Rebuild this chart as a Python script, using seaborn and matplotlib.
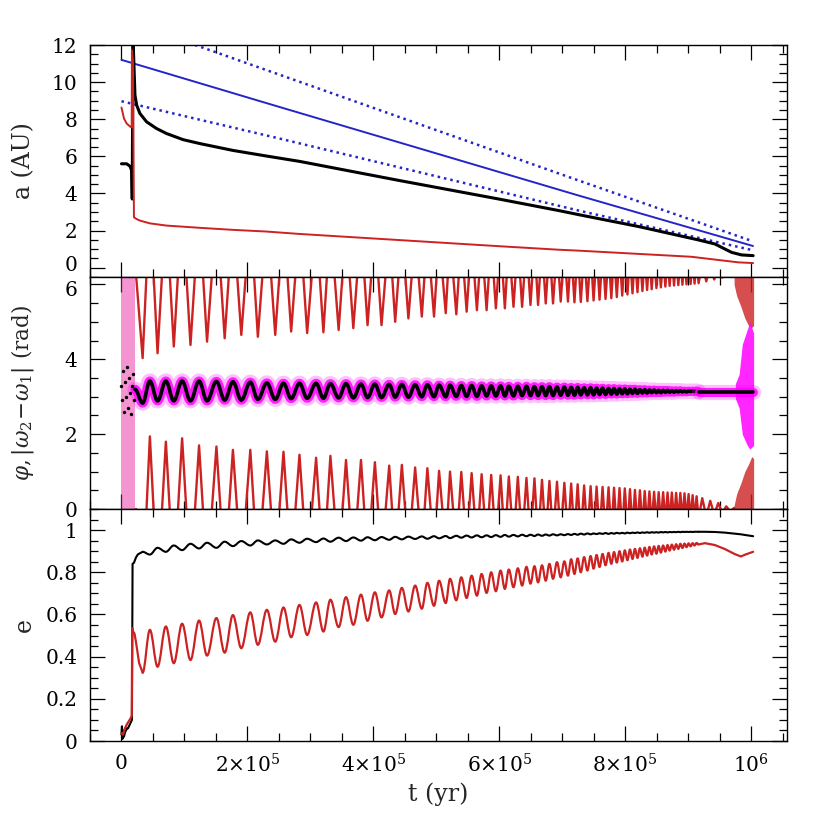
import numpy as np
import matplotlib
matplotlib.use("Agg")
import matplotlib.pyplot as plt
from matplotlib.path import Path
from matplotlib.patches import PathPatch
from matplotlib.transforms import ScaledTranslation
import seaborn as sns
from matplotlib.ticker import MultipleLocator, FixedLocator, FixedFormatter

# ================= DATA (time in kyr) =================
# --- top panel: semi-major axis a (AU) ---
t_blue = [0, 251, 726, 1003]
a_blue = [11.2, 8.66, 3.89, 1.17]
a_blue_hi = [13.4, 10.4, 4.70, 1.42]
a_blue_lo = [8.97, 6.96, 3.08, 0.94]

t_a_blk = [0, 8.2, 13.5, 16.2, 17.1, 18.2, 21.4, 24.1, 29.3, 39.9, 55.7, 71.6, 97.9, 124.3,
           177.0, 229.9, 282.7, 441.1, 599.4, 694.4, 726.0, 821.1, 916.0, 942.5, 968.8, 984.6, 1003.2]
a_blk = [5.6, 5.6, 5.47, 5.24, 3.7, 12.5, 9.3, 8.76, 8.31, 7.86, 7.5, 7.23, 6.9, 6.69,
         6.32, 6.02, 5.73, 4.70, 3.70, 3.08, 2.86, 2.22, 1.50, 1.28, 0.83, 0.69, 0.65]
t_a_red = [0, 4.0, 8.2, 14.6, 16.2, 16.6, 18.2, 19.8, 24.1, 29.3, 45.1, 71.6, 124.3, 177.0,
           229.9, 282.7, 441.1, 599.4, 694.4, 726.0, 905.1, 979.4, 1003.2]
a_red = [8.63, 8.04, 7.77, 7.58, 7.58, 11.7, 11.2, 2.72, 2.62, 2.54, 2.39, 2.27, 2.15, 2.04,
         1.95, 1.82, 1.49, 1.16, 0.97, 0.92, 0.59, 0.29, 0.25]

# --- times of the secular-oscillation extrema ---
t_T = [33.6, 57.3, 83.1, 109.6, 135.9, 163.9, 190.3, 216.6, 244.2, 269.5, 294.9, 320.7,
       344.9, 368.2, 390.8, 413.0, 434.7, 455.7, 477.0, 496.4, 515.0, 531.8, 548.2, 564.5,
       579.9, 594.6, 608.9, 622.6, 636.3, 649.6, 661.6, 673.8, 685.4, 697.6, 709.1, 719.4,
       729.5, 740.0, 749.8, 759.3, 768.8, 778.0, 786.7, 795.3, 803.6, 811.6, 819.5, 827.4,
       834.8, 842.1, 849.6, 856.7, 863.8, 870.6, 877.6, 884.4, 890.9, 897.4, 903.9, 910.2, 916.6]
t_P = [45.1, 70.5, 96.3, 123.2, 150.8, 177.0, 204.6, 230.9, 257.3, 282.7, 309.1, 331.8,
       356.6, 380.4, 402.5, 425.2, 445.3, 466.4, 485.8, 504.4, 521.8, 539.7, 556.1, 572.0,
       587.2, 602.1, 615.2, 629.5, 643.2, 655.9, 667.9, 679.7, 691.7, 703.4, 714.2, 724.5,
       734.8, 745.1, 754.6, 764.1, 773.6, 782.3, 791.0, 799.4, 807.6, 815.5, 823.4, 831.0,
       838.5, 845.9, 853.2, 860.3, 867.3, 874.1, 880.9, 887.6, 894.2, 900.7, 907.1, 913.4]

# --- bottom panel: eccentricities ---
e_red_T = [0.324, 0.352, 0.369, 0.384, 0.405, 0.419, 0.440, 0.456, 0.471, 0.492, 0.503, 0.519,
           0.540, 0.551, 0.570, 0.586, 0.602, 0.614, 0.627, 0.641, 0.654, 0.667, 0.678, 0.689,
           0.702, 0.710, 0.721, 0.729, 0.737, 0.746, 0.752, 0.760, 0.769, 0.776, 0.784, 0.792,
           0.800, 0.808, 0.817, 0.825, 0.833, 0.840, 0.846, 0.851, 0.857, 0.863, 0.868, 0.874,
           0.879, 0.884, 0.888, 0.893, 0.898, 0.903, 0.907, 0.911, 0.915, 0.919, 0.923, 0.927, 0.932]
e_red_P = [0.527, 0.543, 0.556, 0.571, 0.583, 0.597, 0.610, 0.622, 0.633, 0.645, 0.657, 0.670,
           0.682, 0.694, 0.705, 0.714, 0.726, 0.737, 0.750, 0.760, 0.769, 0.776, 0.784, 0.792,
           0.800, 0.808, 0.813, 0.819, 0.826, 0.829, 0.833, 0.840, 0.848, 0.852, 0.862, 0.866,
           0.872, 0.877, 0.882, 0.887, 0.892, 0.896, 0.900, 0.904, 0.908, 0.911, 0.914, 0.917,
           0.920, 0.923, 0.925, 0.927, 0.929, 0.931, 0.933, 0.935, 0.936, 0.937, 0.938, 0.939]
e_blk_T = [0.897, 0.916, 0.927, 0.935, 0.940, 0.945, 0.948, 0.951, 0.951, 0.956, 0.959, 0.960,
           0.964, 0.965, 0.966, 0.967, 0.968, 0.969, 0.970, 0.971, 0.972, 0.973, 0.974, 0.975,
           0.975, 0.976, 0.977, 0.977, 0.978, 0.978, 0.979, 0.979, 0.980, 0.980, 0.981, 0.982,
           0.983, 0.984, 0.984, 0.985, 0.986, 0.986, 0.987, 0.987, 0.988, 0.988, 0.989, 0.989,
           0.990, 0.990, 0.990, 0.991, 0.991, 0.991, 0.991, 0.992, 0.992, 0.992, 0.992, 0.992, 0.992]
e_blk_P = [0.884, 0.897, 0.905, 0.913, 0.916, 0.924, 0.927, 0.932, 0.935, 0.940, 0.943, 0.945,
           0.948, 0.950, 0.952, 0.954, 0.956, 0.958, 0.959, 0.961, 0.962, 0.964, 0.965, 0.966,
           0.967, 0.968, 0.969, 0.970, 0.971, 0.972, 0.973, 0.974, 0.975, 0.976, 0.977, 0.978,
           0.979, 0.980, 0.981, 0.982, 0.982, 0.983, 0.984, 0.984, 0.985, 0.986, 0.986, 0.987,
           0.987, 0.988, 0.988, 0.989, 0.989, 0.990, 0.990, 0.990, 0.991, 0.991, 0.991, 0.992]
t_e_red0 = [0, 2.4, 5.5, 8.7, 11.9, 15.0, 16.3, 17.1, 18.2, 20.6, 23.0, 28.0]
e_red0 = [0.037, 0.03, 0.06, 0.08, 0.095, 0.11, 0.12, 0.535, 0.52, 0.51, 0.47, 0.37]
t_e_blk0 = [0, 0.8, 1.6, 2.4, 4.0, 5.5, 7.1, 8.7, 10.3, 11.9, 13.5, 15.0, 16.6, 17.6, 19.8, 23.0, 26.1]
e_blk0 = [0.03, 0.07, 0.01, 0.05, 0.02, 0.04, 0.05, 0.06, 0.06, 0.07, 0.08, 0.09, 0.10, 0.84, 0.845, 0.87, 0.885]
t_e_tail = [926.7, 942.5, 958.4, 974.2, 983.7, 990.0, 1003.2]
e_red_tail = [0.938, 0.929, 0.910, 0.886, 0.875, 0.883, 0.897]
e_blk_tail = [0.992, 0.991, 0.988, 0.983, 0.980, 0.977, 0.971]

# --- middle panel: angles (rad) ---
phi_red_T = [-2.25, -2.12, -1.94, -1.90, -1.81, -1.72, -1.63, -1.68, -1.63, -1.54, -1.58, -1.56,
             -1.50, -1.45, -1.37, -1.37, -1.28, -1.19, -1.14, -1.14, -1.05, -1.08, -1.01, -0.97,
             -0.97, -0.92, -0.92, -0.88, -0.88, -0.83, -0.83, -0.79, -0.79, -0.74, -0.74, -0.76,
             -0.75, -0.73, -0.71, -0.69, -0.67, -0.65, -0.62, -0.58, -0.55, -0.52, -0.49, -0.46,
             -0.43, -0.41, -0.38, -0.36, -0.34, -0.32, -0.31, -0.30, -0.29, -0.28, -0.27, -0.26, -0.25]
phi_red_P = [1.94, 1.80, 1.89, 1.70, 1.67, 1.58, 1.58, 1.54, 1.53, 1.45, 1.37, 1.42,
             1.31, 1.31, 1.25, 1.16, 1.18, 1.11, 1.09, 1.02, 1.00, 0.99, 0.96, 0.93,
             0.91, 0.90, 0.87, 0.86, 0.83, 0.82, 0.78, 0.75, 0.73, 0.70, 0.68, 0.66,
             0.63, 0.61, 0.60, 0.59, 0.58, 0.57, 0.56, 0.55, 0.53, 0.51, 0.50, 0.48,
             0.47, 0.46, 0.45, 0.45, 0.44, 0.44, 0.43, 0.43, 0.42, 0.40, 0.37, 0.34]
phi_blk_T = [2.83, 2.89, 2.89, 2.89, 2.89, 2.91, 2.91, 2.93, 2.93, 2.95, 2.96, 2.96,
             2.97, 2.97, 2.98, 2.98, 2.99, 2.99, 3.00, 3.00, 3.00, 3.01, 3.01, 3.01,
             3.02, 3.02, 3.02, 3.02, 3.03, 3.03, 3.03, 3.03, 3.03, 3.04, 3.04, 3.04,
             3.05, 3.05, 3.05, 3.06, 3.06, 3.07, 3.07, 3.08, 3.08, 3.09, 3.09, 3.10,
             3.10, 3.11, 3.11, 3.11, 3.12, 3.12, 3.12, 3.13, 3.13, 3.13, 3.14, 3.14, 3.14]
phi_blk_P = [3.42, 3.42, 3.42, 3.42, 3.41, 3.40, 3.39, 3.37, 3.36, 3.36, 3.36, 3.35,
             3.35, 3.34, 3.34, 3.33, 3.33, 3.32, 3.32, 3.31, 3.31, 3.30, 3.30, 3.29,
             3.29, 3.29, 3.28, 3.28, 3.28, 3.27, 3.27, 3.27, 3.26, 3.26, 3.25, 3.25,
             3.24, 3.24, 3.23, 3.23, 3.22, 3.22, 3.21, 3.21, 3.20, 3.20, 3.19, 3.19,
             3.18, 3.18, 3.17, 3.17, 3.17, 3.16, 3.16, 3.16, 3.15, 3.15, 3.15, 3.15]
t_phi_red_tail = [922.4, 928.8, 935.1, 941.4, 947.8, 954.1, 960.5, 966.8, 973.1]
phi_red_tail = [0.29, -0.20, 0.22, -0.15, 0.16, -0.10, 0.07, -0.06, 0.03]
t_phi_blk_tail = [916.6, 930.0, 1003.2]
phi_blk_tail = [3.14, 3.14, 3.14]
t_phi_blk0 = [0, 1.6, 3.2, 4.0, 5.5, 7.1, 8.7, 10.3, 11.9, 13.5, 15.0, 16.6, 18.2, 19.8]
phi_blk0 = [3.3, 2.9, 3.7, 2.6, 3.4, 3.0, 3.8, 2.7, 3.5, 3.1, 2.55, 3.3, 3.6, 2.9]
# chaotic clouds at start and end
t_start_cloud = [0, 22]
t_end_red = [973, 977, 984, 990, 996, 1001, 1004]
phi_end_red_top = [6.0, 5.7, 5.4, 5.1, 4.9, 4.85, 4.9]
phi_end_red_bot = [0.1, 0.4, 0.7, 1.0, 1.2, 1.4, 1.35]
t_end_mag = [975, 981, 986, 994, 998, 1004]
phi_end_mag_lo = [2.95, 2.7, 2.0, 1.7, 1.6, 1.7]
phi_end_mag_hi = [3.35, 3.6, 4.4, 4.8, 5.0, 4.7]

TWO_PI = 2 * np.pi

# ================= helpers =================
def interleave(a_T, a_P):
    out = np.empty(len(a_T) + len(a_P))
    out[0::2] = a_T
    out[1::2] = a_P
    return out

def yr(v):
    return np.asarray(v, float) * 1e3

t_osc = interleave(t_T, t_P)

RED = "#cc2222"
BLUE = "#2424c8"
MAG = "#ff00ff"

sns.set_theme(style="ticks")
plt.rcParams['font.family'] = ['DejaVu Serif']
plt.rcParams['mathtext.fontset'] = 'dejavuserif'
plt.rcParams['axes.linewidth'] = 1.0
plt.rcParams['axes.edgecolor'] = 'black'

fig = plt.figure(figsize=(8.3, 8.3), dpi=100)
L, R = 90 / 830, 787 / 830
H = 232 / 830
ax1 = fig.add_axes([L, 1 - 277 / 830, R - L, H])
ax2 = fig.add_axes([L, 1 - 509 / 830, R - L, H])
ax3 = fig.add_axes([L, 1 - 741 / 830, R - L, H])


def line(ax, x, y, **kw):
    sns.lineplot(x=yr(x), y=np.asarray(y, float), ax=ax, estimator=None, sort=False, **kw)


def smooth(ax, x, y, **kw):
    """Curve through the extrema with horizontal tangents (sine-like arcs)."""
    x = yr(x)
    y = np.asarray(y, float)
    verts = [(x[0], y[0])]
    codes = [Path.MOVETO]
    for i in range(len(x) - 1):
        dx = x[i + 1] - x[i]
        verts += [(x[i] + 0.364 * dx, y[i]), (x[i + 1] - 0.364 * dx, y[i + 1]), (x[i + 1], y[i + 1])]
        codes += [Path.CURVE4] * 3
    ax.add_patch(PathPatch(Path(verts, codes), fill=False, capstyle="round",
                           joinstyle="round", **kw))


# ---------- top panel ----------
line(ax1, t_blue, a_blue_hi, color=BLUE, lw=1.8, linestyle=(0, (1, 1.6)))
line(ax1, t_blue, a_blue_lo, color=BLUE, lw=1.8, linestyle=(0, (1, 1.6)))
line(ax1, t_blue, a_blue, color=BLUE, lw=1.4)
line(ax1, t_a_blk, a_blk, color="black", lw=2.2)
line(ax1, t_a_red, a_red, color=RED, lw=1.4)
ax1.set_ylim(-0.5, 12)
ax1.yaxis.set_major_locator(MultipleLocator(2))
ax1.yaxis.set_minor_locator(MultipleLocator(0.5))
ax1.set_ylabel("a (AU)", fontsize=17)

# ---------- middle panel ----------
ax2.fill_between(yr(t_start_cloud), 0, 6.3, color=MAG, alpha=0.3, lw=0)
ax2.fill_between(yr(t_start_cloud), 0, 6.3, color=RED, alpha=0.2, lw=0)
blk_osc_t = np.concatenate([[21.4], t_osc])
blk_osc = np.concatenate([[3.2], interleave(phi_blk_T, phi_blk_P)])
smooth(ax2, blk_osc_t, blk_osc, color=MAG, lw=11, alpha=0.25)
smooth(ax2, blk_osc_t, blk_osc, color=MAG, lw=6.5, alpha=0.85)
line(ax2, t_phi_blk_tail, phi_blk_tail, color=MAG, lw=11, alpha=0.25)
line(ax2, t_phi_blk_tail, phi_blk_tail, color=MAG, lw=6.5, alpha=0.85)
phi_red_t = np.concatenate([[23.0], t_osc, t_phi_red_tail])
phi_red = np.concatenate([[0.0], interleave(phi_red_T, phi_red_P), phi_red_tail])
line(ax2, phi_red_t, phi_red, color=RED, lw=1.7)
line(ax2, phi_red_t, phi_red + TWO_PI, color=RED, lw=1.7)
ax2.fill_between(yr(t_end_red), phi_end_red_top, 6.3, color=RED, lw=0, alpha=0.8)
ax2.fill_between(yr(t_end_red), 0, phi_end_red_bot, color=RED, lw=0, alpha=0.8)
ax2.fill_between(yr(t_end_mag), phi_end_mag_lo, phi_end_mag_hi, color=MAG, lw=0, alpha=0.85)
sns.scatterplot(x=yr(t_phi_blk0), y=phi_blk0, ax=ax2, color="black", s=6, linewidth=0)
smooth(ax2, blk_osc_t, blk_osc, color="black", lw=2.6)
line(ax2, t_phi_blk_tail, phi_blk_tail, color="black", lw=2.6)
ax2.set_ylim(0, 6.2)
ax2.yaxis.set_major_locator(MultipleLocator(2))
ax2.yaxis.set_minor_locator(MultipleLocator(0.5))
ax2.set_ylabel(r"$\varphi,|\omega_2\!-\!\omega_1|$ (rad)", fontsize=15.5)

# ---------- bottom panel ----------
line(ax3, t_e_blk0 + [t_T[0]], e_blk0 + [e_blk_T[0]], color="black", lw=1.5)
smooth(ax3, t_osc, interleave(e_blk_T, e_blk_P), color="black", lw=1.5)
line(ax3, [t_T[-1]] + t_e_tail, [e_blk_T[-1]] + e_blk_tail, color="black", lw=1.5)
line(ax3, t_e_red0 + [t_T[0]], e_red0 + [e_red_T[0]], color=RED, lw=1.6)
smooth(ax3, t_osc, interleave(e_red_T, e_red_P), color=RED, lw=1.6)
line(ax3, [t_T[-1]] + t_e_tail, [e_red_T[-1]] + e_red_tail, color=RED, lw=1.6)
ax3.set_ylim(0, 1.1)
ax3.yaxis.set_major_locator(FixedLocator([0, 0.2, 0.4, 0.6, 0.8, 1.0]))
ax3.yaxis.set_major_formatter(FixedFormatter(["0", "0.2", "0.4", "0.6", "0.8", "1"]))
ax3.yaxis.set_minor_locator(MultipleLocator(0.05))
ax3.set_ylabel("e", fontsize=17)
ax3.set_xlabel("t (yr)", fontsize=17)

xt = [0, 2e5, 4e5, 6e5, 8e5, 1e6]
xl = ["0", r"$2{\times}10^5$", r"$4{\times}10^5$", r"$6{\times}10^5$", r"$8{\times}10^5$", r"$10^6$"]
for ax in (ax1, ax2, ax3):
    ax.set_xlim(-5e4, 1.057e6)
    ax.xaxis.set_major_locator(FixedLocator(xt))
    ax.xaxis.set_minor_locator(MultipleLocator(5e4))
    ax.tick_params(which="both", direction="in", top=True, right=True,
                   colors="black", labelsize=14.5)
    ax.tick_params(which="major", length=11, width=0.9)
    ax.tick_params(which="minor", length=5.5, width=0.9)
    ax.tick_params(axis="y", pad=9)
    ax.yaxis.set_label_coords(-0.078, 0.5)
    for s in ax.spines.values():
        s.set_visible(True)
        s.set_color("black")
for ax in (ax1, ax2):
    ax.tick_params(labelbottom=False)
    ax.set_xlabel("")
ax3.xaxis.set_major_formatter(FixedFormatter(xl))
ax3.tick_params(axis="x", pad=9)

# nudge the two labels meeting at the panel joint ("0" of a, "6" of phi) slightly apart
fig.canvas.draw()
for tick in ax1.yaxis.get_major_ticks():
    if abs(tick.get_loc()) < 1e-9:
        tick.label1.set_transform(tick.label1.get_transform()
                                  + ScaledTranslation(0, 3.2 / 72, fig.dpi_scale_trans))
for tick in ax2.yaxis.get_major_ticks():
    if abs(tick.get_loc() - 6) < 1e-9:
        tick.label1.set_transform(tick.label1.get_transform()
                                  + ScaledTranslation(0, -3.2 / 72, fig.dpi_scale_trans))

fig.savefig("out.png", dpi=100)
